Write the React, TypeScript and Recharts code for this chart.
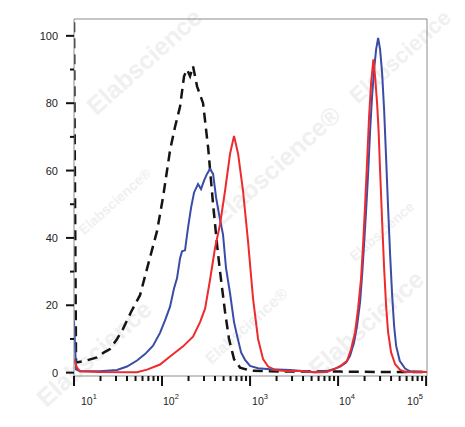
import { LineChart, Line, XAxis, YAxis, ReferenceLine } from "recharts";

// x values are log10(fluorescence), y values are % of max count
const isoX = [1.0, 1.023, 1.125, 1.261, 1.341, 1.409, 1.489, 1.557, 1.648, 1.75, 1.841, 1.943, 2.011, 2.091, 2.148, 2.205, 2.25, 2.284, 2.318, 2.352, 2.398, 2.466, 2.523, 2.58, 2.625, 2.659, 2.716, 2.761, 2.818, 2.886, 3.0, 3.227, 3.568, 4.023, 4.48, 5.01];
const isoY = [104, 3, 3.5, 4.5, 6, 7, 10, 13, 18, 23, 32, 42, 52, 66, 73, 79, 88, 90, 88, 91, 85, 80, 67, 50, 38, 30, 18, 10, 4, 1.5, 0.6, 0.4, 0.3, 0.3, 0.2, 0.2];

const blueX = [1.0, 1.023, 1.068, 1.295, 1.489, 1.602, 1.716, 1.807, 1.898, 1.977, 2.034, 2.091, 2.136, 2.17, 2.205, 2.227, 2.261, 2.295, 2.33, 2.364, 2.409, 2.443, 2.477, 2.511, 2.545, 2.58, 2.614, 2.648, 2.693, 2.727, 2.773, 2.818, 2.852, 2.898, 2.943, 3.0, 3.091, 3.227, 3.455, 3.625, 3.739, 3.864, 3.966, 4.023, 4.091, 4.136, 4.182, 4.216, 4.25, 4.273, 4.295, 4.318, 4.341, 4.364, 4.386, 4.409, 4.432, 4.455, 4.477, 4.5, 4.523, 4.545, 4.568, 4.591, 4.614, 4.636, 4.659, 4.7, 4.761, 4.818, 5.01];
const blueY = [15.5, 1, 0.4, 0.4, 0.8, 1.8, 3.6, 5.5, 8, 11.8, 15.5, 19.6, 25, 28, 34, 36, 36.3, 43, 49, 53.5, 56, 54.5, 57, 59, 60.5, 59, 52, 47, 41, 31, 23.5, 15, 11, 6, 3.8, 2, 1.3, 1, 0.8, 0.4, 0.1, 0.4, 1.2, 1.8, 3, 5, 9, 14, 21, 29, 38, 48, 59, 72, 82, 90, 96, 99.4, 96, 89, 78, 64, 49, 35, 23, 14, 8, 3.5, 1.2, 0.4, 0.2];

const redX = [1.0, 1.034, 1.068, 1.295, 1.716, 1.83, 1.977, 2.091, 2.239, 2.352, 2.432, 2.489, 2.545, 2.602, 2.659, 2.716, 2.773, 2.818, 2.864, 2.92, 2.977, 3.034, 3.091, 3.148, 3.205, 3.284, 3.398, 3.568, 3.716, 3.875, 3.985, 4.045, 4.102, 4.148, 4.193, 4.227, 4.261, 4.284, 4.307, 4.33, 4.352, 4.375, 4.401, 4.42, 4.443, 4.46, 4.477, 4.5, 4.523, 4.545, 4.568, 4.602, 4.648, 4.705, 4.761, 5.01];
const redY = [4, 1.5, 0.4, 0.2, 0.1, 0.9, 2.4, 4.8, 7.8, 10.7, 15, 19, 27.5, 37, 44, 54, 65, 70.3, 65, 54, 39, 22, 10, 4, 1.8, 0.8, 0.5, 0.5, 0.1, 0.2, 1.4, 2.3, 3.5, 7, 12, 19, 28, 38, 50, 63, 76, 86, 93, 88, 80, 72, 60, 45, 31, 20, 12, 6, 2.5, 0.8, 0.2, 0.2];

const yMajor = [0, 20, 40, 60, 80, 100];
const yMinor = [10, 30, 50, 70, 90];
const decades = [1, 2, 3, 4, 5];

const watermark = "Elabscience";

const zip = (xs: number[], ys: number[]) => xs.map((x, i) => ({ x, y: ys[i] }));
const isoData = zip(isoX, isoY);
const blueData = zip(blueX, blueY);
const redData = zip(redX, redY);

// log minor ticks 2..9 inside each decade
const xMinor: number[] = [];
for (let d = 1; d < 5; d++) {
  for (let k = 2; k <= 9; k++) xMinor.push(d + Math.log10(k));
}

const labelShift: Record<number, number> = { 1: 7, 2: 1, 3: 2, 4: 1, 5: -19 };

function YTick(props: any) {
  const { x, y, payload } = props;
  const v = payload.value;
  const major = v % 20 === 0;
  return (
    <g>
      <line x1={x} x2={x - (major ? 8 : 4)} y1={y} y2={y} stroke="#111" strokeWidth={2} />
      {major && (
        <text x={x - 16} y={y} dy={4} textAnchor="end" fontSize={11} fill="#222"
          fontFamily="'Liberation Sans', Arial, sans-serif">
          {v}
        </text>
      )}
    </g>
  );
}

function XTick(props: any) {
  const { x, y, payload } = props;
  const v = payload.value;
  const major = Math.abs(v - Math.round(v)) < 1e-6;
  return (
    <g>
      <line x1={x} x2={x} y1={y} y2={y + (major ? 10 : 5)} stroke="#111" strokeWidth={2} />
      {major && (
        <text x={x + labelShift[Math.round(v)]} y={y + 29} textAnchor="start" fontSize={10.5}
          fill="#222" fontFamily="'Liberation Sans', Arial, sans-serif">
          <tspan>10</tspan>
          <tspan dy={-6} fontSize={7.5}>{Math.round(v)}</tspan>
        </text>
      )}
    </g>
  );
}

// faint diagonal watermarks, kept clear of the edges and frame lines
const marks = [
  { x: 150, y: 68, s: 25, t: watermark },
  { x: 282, y: 172, s: 25, t: watermark + "®" },
  { x: 405, y: 62, s: 22, t: watermark },
  { x: 118, y: 205, s: 14, t: watermark + "®" },
  { x: 100, y: 360, s: 25, t: watermark },
  { x: 372, y: 330, s: 25, t: watermark },
  { x: 250, y: 330, s: 16, t: watermark + "®" },
  { x: 385, y: 235, s: 14, t: watermark },
];

export default function App() {
  return (
    <div style={{ position: "absolute", left: 0, top: 0, width: 465, height: 427, background: "#fff" }}>
      <svg width={465} height={427} style={{ position: "absolute", left: 0, top: 0 }}>
        {marks.map((m, i) => (
          <text key={i} x={m.x} y={m.y} textAnchor="middle" fontSize={m.s} fontWeight="bold"
            fill="#f0f0f0" fontFamily="'Liberation Sans', Arial, sans-serif"
            transform={`rotate(-42 ${m.x} ${m.y})`}>
            {m.t}
          </text>
        ))}
      </svg>
      <div style={{ position: "absolute", left: 0, top: 0 }}>
        <LineChart width={465} height={427} margin={{ top: 19, right: 38, bottom: 11, left: 0 }}>
          <XAxis type="number" dataKey="x" domain={[1, 5.01]} allowDataOverflow
            ticks={[...decades, ...xMinor]} interval={0} tickSize={0} tickMargin={0}
            tick={<XTick />} height={40} axisLine={{ stroke: "#8c8c8c" }} />
          <YAxis type="number" dataKey="y" domain={[-1, 105]} allowDataOverflow
            ticks={[...yMajor, ...yMinor]} interval={0} tickSize={0} tickMargin={0}
            tick={<YTick />} width={74} axisLine={{ stroke: "#8c8c8c" }} />
          <ReferenceLine y={105} stroke="#8c8c8c" />
          <ReferenceLine x={5.01} stroke="#8c8c8c" />
          <Line data={isoData} dataKey="y" type="linear" dot={false} stroke="#141414"
            strokeWidth={2.5} strokeDasharray="10 6" isAnimationActive={false} />
          <Line data={blueData} dataKey="y" type="linear" dot={false} stroke="#3a4ca6"
            strokeWidth={2} isAnimationActive={false} />
          <Line data={redData} dataKey="y" type="linear" dot={false} stroke="#ee2a2d"
            strokeWidth={2} isAnimationActive={false} />
        </LineChart>
      </div>
    </div>
  );
}
